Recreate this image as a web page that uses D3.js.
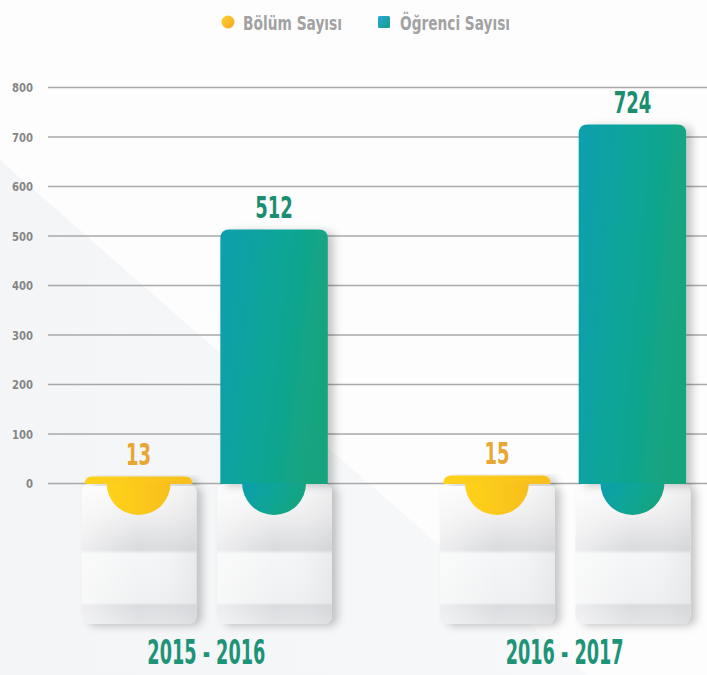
<!DOCTYPE html>
<html>
<head>
<meta charset="utf-8">
<script src="https://cdn.jsdelivr.net/npm/d3@7"></script>
<style>
  html, body { margin: 0; padding: 0; background: #ffffff; }
  svg { display: block; }
  text { font-family: "DejaVu Sans Condensed", "Liberation Sans Narrow", "Roboto", sans-serif; font-weight: bold; }
</style>
</head>
<body>
<svg id="chart" width="707" height="675"></svg>
<script>
// Academic years shown on the x axis
const categories = ["2015 - 2016", "2016 - 2017"];
// Series names (legend order)
const seriesNames = ["Bölüm Sayısı", "Öğrenci Sayısı"];
// Number of departments per year
const bolumSayisi = [13, 15];
// Number of students per year
const ogrenciSayisi = [512, 724];
// Y axis ticks
const yTicks = [0, 100, 200, 300, 400, 500, 600, 700, 800];

const W = 707, H = 675;
const svg = d3.select("#chart");
const defs = svg.append("defs");

// ---- gradients & filters ----
function linGrad(id, x1, y1, x2, y2, stops) {
  const g = defs.append("linearGradient").attr("id", id)
    .attr("x1", x1).attr("y1", y1).attr("x2", x2).attr("y2", y2);
  stops.forEach(s => g.append("stop").attr("offset", s[0]).attr("stop-color", s[1]));
}
linGrad("gTeal", "0", "0", "1", "0.3", [[0, "#0a9fae"], [0.55, "#0ea596"], [1, "#14a47f"]]);
linGrad("gYellow", "0", "0", "1", "0", [[0, "#ffd21a"], [1, "#f7bf1c"]]);
linGrad("gCard", "0", "0", "0", "1", [
  [0, "#fbfbfc"], [0.2, "#f1f1f2"], [0.47, "#d9dadd"], [0.5, "#f5f6f7"],
  [0.85, "#eff0f1"], [0.865, "#dadbde"], [1, "#e3e4e6"]]);
linGrad("gCardSide", "0", "0", "1", "0", [
  [0, "rgba(255,255,255,0.55)"], [0.5, "rgba(255,255,255,0)"], [1, "rgba(200,201,204,0.25)"]]);
linGrad("gLegYellow", "0", "0", "1", "1", [[0, "#ffd033"], [1, "#f4a723"]]);
linGrad("gLegTeal", "0", "0", "1", "1", [[0, "#2aa6d8"], [1, "#10a08a"]]);
linGrad("gBg", "0", "0", "1", "0", [[0, "#f4f5f7"], [1, "#f8f9fa"]]);

const shadow = defs.append("filter").attr("id", "shadow")
  .attr("x", "-20%").attr("y", "-10%").attr("width", "150%").attr("height", "130%");
shadow.append("feDropShadow").attr("dx", 6).attr("dy", 2).attr("stdDeviation", 4)
  .attr("flood-color", "#000").attr("flood-opacity", 0.22);

// ---- background with a soft diagonal panel ----
svg.append("rect").attr("width", W).attr("height", H).attr("fill", "#fdfdfe");
svg.append("path")
  .attr("d", `M0,160 L${W},780 L0,780 Z`)
  .attr("fill", "url(#gBg)");

// ---- scales ----
const y = d3.scaleLinear().domain([0, 800]).range([483, 87]);
const x0 = d3.scaleBand().domain(categories).range([49, 722]).paddingInner(0.322).paddingOuter(0.1);
const x1 = d3.scaleBand().domain(seriesNames).range([0, x0.bandwidth()]).paddingInner(0.207).paddingOuter(0);

// Squeeze a text horizontally to a target width (narrow display lettering)
function squeeze(sel, targetWidth) {
  sel.each(function () {
    const t = d3.select(this);
    const w = this.getComputedTextLength();
    const sx = w > 0 ? targetWidth / w : 1;
    const x = +t.attr("x") || 0, yy = +t.attr("y") || 0;
    t.attr("x", x / sx).attr("transform", `scale(${sx},1)`);
  });
}

// ---- grid + tick labels ----
const axis = d3.axisLeft(y).tickValues(yTicks).tickSize(-(W - 48)).tickPadding(15);
const gAxis = svg.append("g").attr("transform", "translate(48,0)").call(axis);
gAxis.select(".domain").remove();
gAxis.selectAll(".tick line").attr("stroke", "#a9a9a9").attr("stroke-width", 1.6);
gAxis.selectAll(".tick text")
  .attr("fill", "#858585").attr("font-size", 13)
  .attr("dy", "0.36em")
  .attr("textLength", d => String(d).length * 7)
  .attr("lengthAdjust", "spacingAndGlyphs");

// ---- data rows ----
const rows = categories.map((c, i) => ({
  cat: c,
  values: [
    { key: seriesNames[0], value: bolumSayisi[i] },
    { key: seriesNames[1], value: ogrenciSayisi[i] }
  ]
}));

const zeroY = y(0);
const cardBottom = 624;

function topRounded(x, yTop, w, yBot, r) {
  const h = yBot - yTop;
  const rr = Math.max(0, Math.min(r, h, w / 2));
  return `M${x},${yBot} L${x},${yTop + rr} Q${x},${yTop} ${x + rr},${yTop} ` +
         `L${x + w - rr},${yTop} Q${x + w},${yTop} ${x + w},${yTop + rr} L${x + w},${yBot} Z`;
}

const groups = svg.selectAll("g.year").data(rows).join("g")
  .attr("class", "year")
  .attr("transform", d => `translate(${x0(d.cat)},0)`);

const items = groups.selectAll("g.item").data(d => d.values).join("g").attr("class", "item");

// pocket cards below the zero line
items.append("rect")
  .attr("x", d => x1(d.key) - 3)
  .attr("y", zeroY + 1)
  .attr("width", x1.bandwidth() + 7)
  .attr("height", cardBottom - zeroY - 1)
  .attr("rx", 8)
  .attr("fill", "url(#gCard)")
  .attr("filter", "url(#shadow)");
items.append("rect")
  .attr("x", d => x1(d.key) - 3)
  .attr("y", zeroY + 1)
  .attr("width", x1.bandwidth() + 7)
  .attr("height", cardBottom - zeroY - 1)
  .attr("rx", 8)
  .attr("fill", "url(#gCardSide)");

// bars above the zero line
const fillOf = d => d.key === seriesNames[0] ? "url(#gYellow)" : "url(#gTeal)";
items.append("path")
  .attr("d", d => topRounded(x1(d.key), y(d.value), x1.bandwidth(), zeroY + 1, 9))
  .attr("fill", fillOf)
  .attr("filter", "url(#shadow)");

// tab poking into the pocket
items.append("path")
  .attr("d", d => {
    const cx = x1(d.key) + x1.bandwidth() / 2, r = 32;
    return `M${cx - r},${zeroY} A${r},${r} 0 0 0 ${cx + r},${zeroY} Z`;
  })
  .attr("fill", fillOf);

// value labels
items.append("text")
  .attr("x", d => x1(d.key) + x1.bandwidth() / 2)
  .attr("y", d => y(d.value) - 12)
  .attr("text-anchor", "middle")
  .attr("font-size", 31)
  .attr("fill", d => d.key === seriesNames[0] ? "#e8a632" : "#1b8e72")
  .attr("textLength", d => String(d.value).length * 12.5)
  .attr("lengthAdjust", "spacingAndGlyphs")
  .text(d => d.value);

// category labels
groups.append("text")
  .attr("x", x0.bandwidth() / 2)
  .attr("y", 664)
  .attr("text-anchor", "middle")
  .attr("font-size", 33)
  .attr("fill", "#1d9378")
  .text(d => d.cat)
  .call(squeeze, 118);

// ---- legend ----
const legend = svg.append("g");
legend.append("circle").attr("cx", 228).attr("cy", 22).attr("r", 6.5).attr("fill", "url(#gLegYellow)");
legend.append("text").attr("x", 243).attr("y", 30).attr("font-size", 19).attr("fill", "#a2a2a2")
  .attr("textLength", 99).attr("lengthAdjust", "spacingAndGlyphs").text(seriesNames[0]);
legend.append("rect").attr("x", 378).attr("y", 16).attr("width", 12).attr("height", 12).attr("rx", 1.5)
  .attr("fill", "url(#gLegTeal)");
legend.append("text").attr("x", 400).attr("y", 30).attr("font-size", 19).attr("fill", "#a2a2a2")
  .attr("textLength", 110).attr("lengthAdjust", "spacingAndGlyphs").text(seriesNames[1]);
</script>
</body>
</html>
